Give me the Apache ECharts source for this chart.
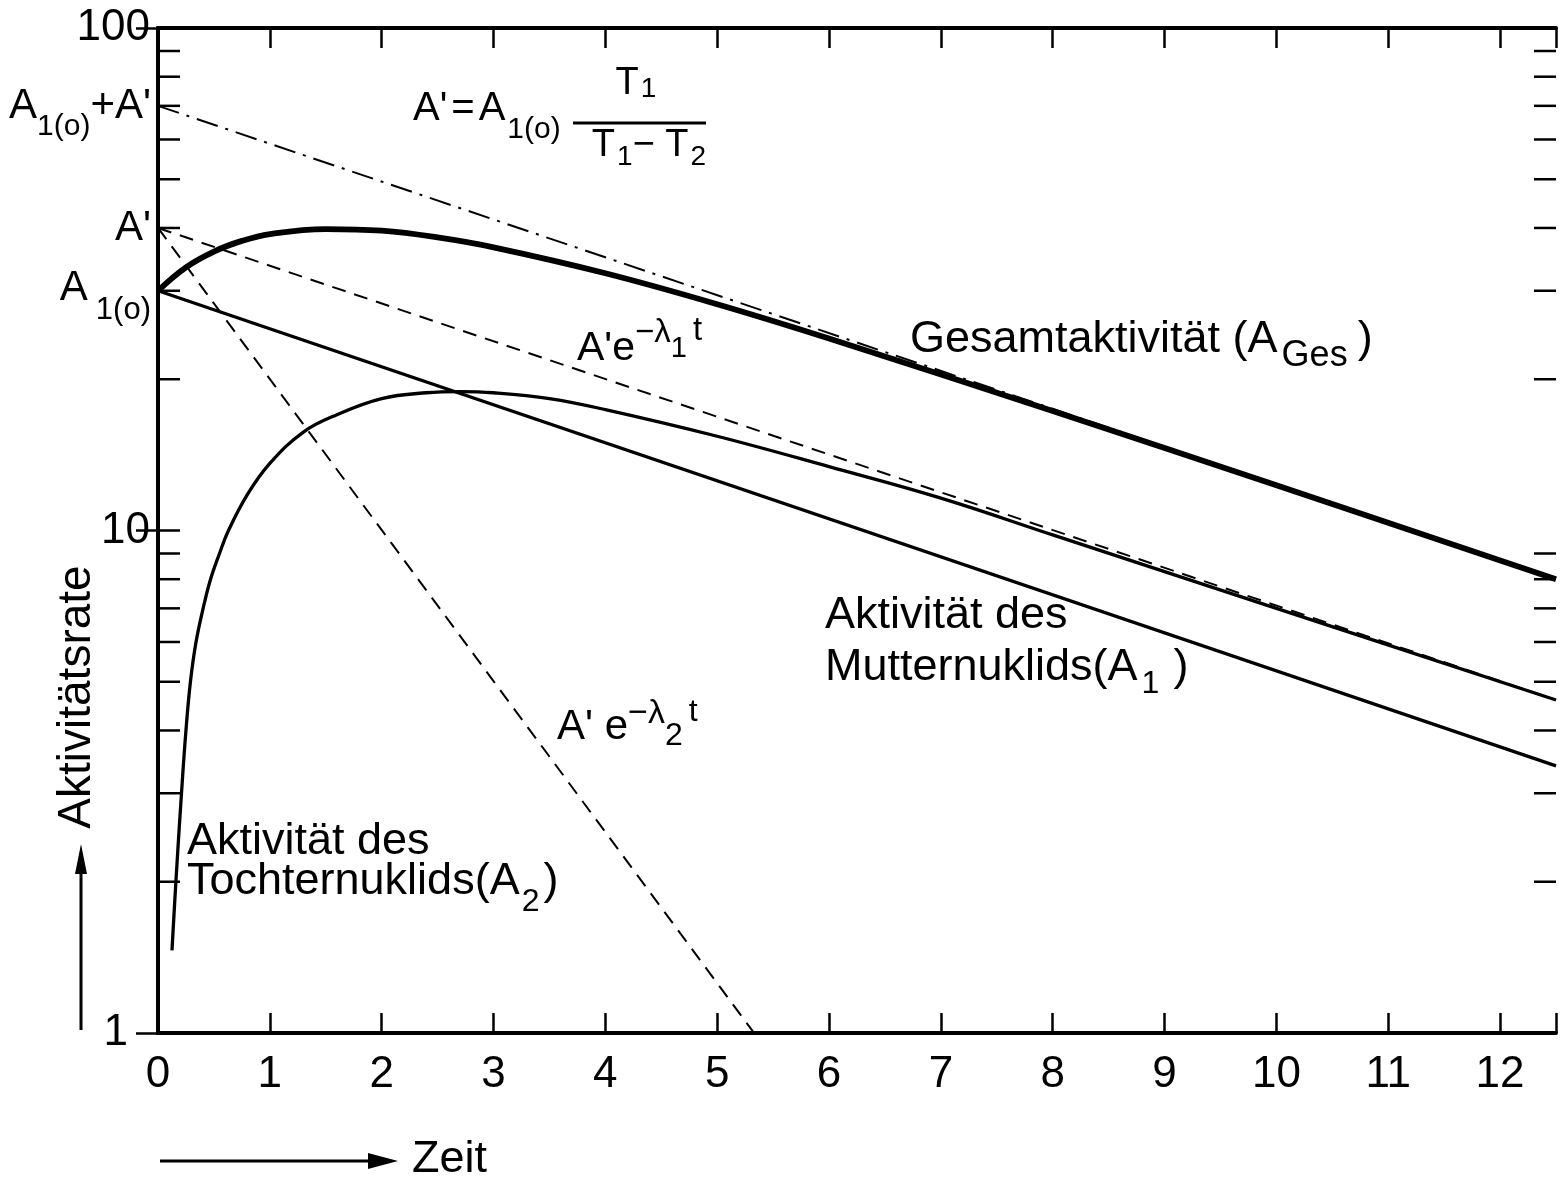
<!DOCTYPE html>
<html>
<head>
<meta charset="utf-8">
<script src="https://cdn.jsdelivr.net/npm/echarts@6/dist/echarts.min.js"></script>
<style>
  html, body { margin: 0; padding: 0; background: #fff; }
  #chart { width: 1560px; height: 1181px; }
</style>
</head>
<body>
<div id="chart"></div>
<script>
const FONT = "'Liberation Sans', Arial, sans-serif";

// ---- axes ----
const timeTicks = [0, 1, 2, 3, 4, 5, 6, 7, 8, 9, 10, 11, 12];
const yLabelValues = [1, 10, 100];
const yMinorValues = [2, 3, 4, 5, 6, 7, 8, 9, 20, 30, 40, 50, 60, 70, 80, 90];

// ---- total activity A_Ges ----
const totalTime = [0, 0.25, 0.5, 0.75, 1, 1.5, 2, 2.5, 3, 4, 5, 6, 8, 10, 12.5];
const totalActivity = [30, 33.4, 35.9, 37.7, 38.9, 39.8, 39.5, 38.3, 36.6, 32.5, 28.2, 24.1, 17.3, 12.3, 8.0];

// ---- daughter activity A2 ----
const daughterTime = [0.125, 0.16, 0.21, 0.25, 0.29, 0.34, 0.41, 0.47, 0.55, 0.63, 0.8, 1.0, 1.3, 1.6, 2.0, 2.4, 2.7, 3.0, 3.5, 4.0, 5.0, 6.0, 7.0, 8.0, 10.0, 12.5];
const daughterActivity = [1.46, 2.0, 3.0, 4.0, 5.0, 6.0, 7.1, 8.0, 9.0, 10.0, 11.8, 13.6, 15.7, 17.0, 18.3, 18.8, 18.9, 18.8, 18.3, 17.4, 15.4, 13.4, 11.6, 9.8, 7.0, 4.6];

// ---- parent activity A1 (straight on log scale) ----
const parentTime = [0, 12.5];
const parentActivity = [30, 3.4];

// ---- asymptotes ----
const slowTime = [0, 12.5];
const slowActivity = [40, 4.6];     // A' e^{-λ1 t}
const fastTime = [0, 5.33];
const fastActivity = [40, 1];       // A' e^{-λ2 t}
const sumTime = [0, 12.5];
const sumActivity = [70, 8.0];      // (A1(0) + A') e^{-λ1 t}

const pairs = (xs, ys) => xs.map((x, i) => [x, ys[i]]);

const chart = echarts.init(document.getElementById('chart'));

const axisLine = { show: true, lineStyle: { color: '#000', width: 4 } };
const tickStyle = { color: '#000', width: 2.5 };

function lineSeries(name, xs, ys, style, extra) {
  return Object.assign({
    name, type: 'line', data: pairs(xs, ys),
    xAxisIndex: 0, yAxisIndex: 0,
    showSymbol: false, symbol: 'none', silent: true, z: 2,
    lineStyle: Object.assign({ color: '#000' }, style)
  }, extra || {});
}

chart.setOption({
  animation: false,
  backgroundColor: '#fff',
  grid: { left: 158, right: 4, top: 28, bottom: 148 },
  xAxis: [
    {
      type: 'value', position: 'bottom', min: 0, max: 12.5, interval: 1,
      axisLine, splitLine: { show: false },
      axisTick: { inside: true, length: 20, lineStyle: tickStyle },
      axisLabel: {
        fontSize: 44, fontFamily: FONT, color: '#000', margin: 20,
        formatter: v => timeTicks.includes(v) ? String(v) : ''
      }
    },
    {
      type: 'value', position: 'top', min: 0, max: 12.5, interval: 1,
      axisLine, splitLine: { show: false },
      axisTick: { inside: true, length: 20, lineStyle: tickStyle },
      axisLabel: { show: false }
    }
  ],
  yAxis: [
    {
      type: 'log', logBase: 10, min: 1, max: 100, position: 'left',
      axisLine, splitLine: { show: false },
      axisTick: { inside: true, length: 22, lineStyle: tickStyle },
      axisLabel: {
        fontSize: 44, fontFamily: FONT, color: '#000', margin: 8,
        formatter: v => {
          const r = Math.round(v);
          if (!yLabelValues.includes(r)) return '';
          return r === 1 ? '{one|1}' : String(r);
        },
        rich: { one: { fontSize: 44, fontFamily: FONT, color: '#000', padding: [0, 22, 0, 0] } }
      }
    },
    {
      type: 'log', logBase: 10, min: 1, max: 100, position: 'right',
      axisLine, splitLine: { show: false },
      axisTick: { inside: true, length: 22, lineStyle: tickStyle },
      axisLabel: { show: false }
    }
  ],
  series: [
    lineSeries('sum', sumTime, sumActivity, { width: 2, type: [22, 8, 3, 8] }),
    lineSeries('slow', slowTime, slowActivity, { width: 2, type: [14, 9] }),
    lineSeries('fast', fastTime, fastActivity, { width: 2, type: [14, 9] }),
    lineSeries('A1', parentTime, parentActivity, { width: 3.3 }, { z: 3 }),
    lineSeries('A2', daughterTime, daughterActivity, { width: 3.3 }, { z: 3, smooth: 0.4 }),
    lineSeries('AGes', totalTime, totalActivity, { width: 5.8 }, { z: 4, smooth: 0.4 })
  ]
});

// ---- annotations, ticks and arrows ----
const toPx = (t, v) => chart.convertToPixel({ xAxisIndex: 0, yAxisIndex: 0 }, [t, v]);
const yAt = v => toPx(0, v)[1];
const xLeft = toPx(0, 1)[0];
const xRight = toPx(12.5, 1)[0];

const tok = (size, extra) => Object.assign({ fontSize: size, fontFamily: FONT, fill: '#000', verticalAlign: 'middle' }, extra || {});
const sub = (size, drop, padLeft) => tok(size, { padding: [2 * drop, 0, 0, padLeft || 0] });
const sup = (size, rise, padLeft) => tok(size, { padding: [0, 0, 2 * rise, padLeft || 0] });

function text(x, y, str, rich, align, rotation) {
  return {
    type: 'text', x, y, rotation: rotation || 0, silent: true, z: 10,
    style: { text: str, rich, align: align || 'left', verticalAlign: 'middle', fontSize: 44, fontFamily: FONT, fill: '#000' }
  };
}
function seg(x1, y1, x2, y2, w) {
  return { type: 'line', silent: true, z: 10, shape: { x1, y1, x2, y2 }, style: { stroke: '#000', lineWidth: w } };
}
function tri(points) {
  return { type: 'polygon', silent: true, z: 10, shape: { points }, style: { fill: '#000' } };
}

const g = [];

// minor log ticks on both vertical axes
yMinorValues.forEach(v => {
  const y = yAt(v);
  g.push(seg(xLeft, y, xLeft + 22, y, 2.5));
  g.push(seg(xRight - 22, y, xRight, y, 2.5));
});

// start values on the activity axis
g.push(text(151, yAt(sumActivity[0]) + 1, "{m|A}{s|1(o)}{m|+A'}",
  { m: tok(42), s: sub(30, 20) }, 'right'));
g.push(text(151, yAt(slowActivity[0]), "{m|A'}", { m: tok(42) }, 'right'));
g.push(text(151, yAt(parentActivity[0]) - 2, "{m|A}{s|1(o)}",
  { m: tok(42), s: sub(31, 22, 8) }, 'right'));

// A' = A1(o) * T1 / (T1 - T2)
g.push(text(413, 109, "{m|A'}{e|=}{m|A}{s|1(o)}",
  { m: tok(40), e: tok(40, { padding: [0, 4, 0, 4] }), s: sub(30, 21, 2) }));
g.push(text(636, 84, "{m|T}{s|1}", { m: tok(38), s: sub(28, 5, 2) }, 'center'));
g.push(seg(573, 123, 706, 123, 3));
g.push(text(649, 146, "{m|T}{s|1}{m|− T}{s|2}", { m: tok(38), s: sub(28, 11, 2) }, 'center'));

// curve labels
g.push(text(910, 340, "{m|Gesamtaktivität (A}{s|Ges}{c|)}",
  { m: tok(45), s: sub(36, 16, 4), c: tok(45, { padding: [0, 0, 0, 10] }) }));
g.push(text(577, 349, "{m|A'e}{p|−λ}{q|1}{t|t}",
  { m: tok(41), p: sup(33, 16), q: tok(29), t: sup(33, 18, 6) }));
g.push(text(825, 616, "{m|Aktivität des}", { m: tok(45) }));
g.push(text(825, 668, "{m|Mutternuklids(A}{s|1}{c|)}",
  { m: tok(45), s: sub(32, 16, 4), c: tok(45, { padding: [0, 0, 0, 14] }) }));
g.push(text(557, 727, "{m|A' e}{p|−λ}{q|2}{t|t}",
  { m: tok(42), p: sup(34, 13), q: sub(32, 9), t: sup(32, 15, 6) }));
g.push(text(187, 842, "{m|Aktivität des}", { m: tok(45) }));
g.push(text(187, 882, "{m|Tochternuklids(A}{s|2}{c|)}",
  { m: tok(45), s: sub(32, 20, 2), c: tok(45, { padding: [0, 0, 0, 4] }) }));

// axis titles with arrows
g.push(text(77, 697, "{m|Aktivitätsrate}", { m: tok(46) }, 'center', Math.PI / 2));
g.push(seg(81, 1030, 81, 866, 3));
g.push(tri([[81, 844], [75, 874], [87, 874]]));
g.push(seg(160, 1161, 376, 1161, 3));
g.push(tri([[398, 1161], [368, 1153], [368, 1169]]));
g.push(text(412, 1160, "{m|Zeit}", { m: tok(45) }));

chart.setOption({ graphic: g });
</script>
</body>
</html>
